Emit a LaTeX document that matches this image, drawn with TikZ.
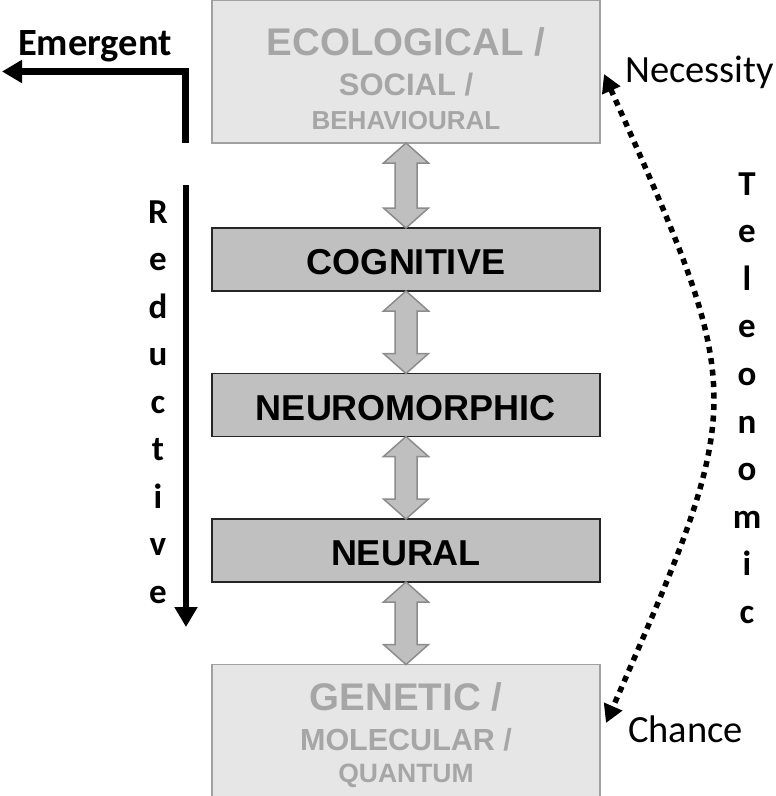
\documentclass[tikz,border=0pt]{standalone}
\usepackage{fontspec}
\setmainfont{Liberation Sans}
\newfontfamily\cali{Carlito}
\usetikzlibrary{arrows.meta,positioning,calc}
\definecolor{softfill}{HTML}{E6E6E6}
\definecolor{softline}{HTML}{A0A0A0}
\definecolor{softtext}{HTML}{A6A6A6}
\definecolor{hardfill}{HTML}{C0C0C0}
\definecolor{arrfill}{HTML}{BFBFBF}
\definecolor{arrline}{HTML}{8C8C8C}
\tikzstyle{lvl}=[x=1pt, y=1pt, node distance=82.5pt]
\tikzstyle{softbox}=[rectangle, draw=softline, fill=softfill, line width=1.5pt,
                minimum width=388pt, outer sep=0, inner sep=0]
\tikzstyle{hardbox}=[rectangle, draw=black!85, fill=hardfill, line width=1.8pt,
                minimum width=388pt, minimum height=63pt, outer sep=0,
                text height=30pt, text depth=0pt,
                font=\fontsize{36}{36}\selectfont\bfseries]
\tikzstyle{softtxt}=[text=softtext, inner sep=0, anchor=base]
\tikzstyle{dbl}=[draw=arrline, fill=arrfill, line width=1.5pt, line join=miter]
\tikzstyle{bigarrow}=[line width=6.5pt, -{Triangle[length=20pt,width=22pt]}]
\tikzstyle{dotarrow}=[line width=5.5pt, dash pattern=on 6pt off 5.5pt,
                {Triangle[length=18pt,width=19pt]}-{Triangle[length=18pt,width=19pt]}]
\tikzstyle{vlet}=[font=\cali\bfseries\fontsize{35}{35}\selectfont, inner sep=0, anchor=base]
\tikzstyle{side}=[font=\cali\fontsize{38.5}{38.5}\selectfont, inner sep=0, anchor=base west]

\begin{document}
\begin{tikzpicture}[lvl]
\path[use as bounding box] (0,0) rectangle (776,-796);
% levels
\node[softbox, minimum height=143pt] (eco) at (406,-71.5) {};
\node[hardbox, below=85pt of eco] (cog) {COGNITIVE};
\node[hardbox, below=of cog] (morph) {NEUROMORPHIC};
\node[hardbox, below=of morph] (neur) {NEURAL};
\node[softbox, minimum height=132pt, below=of neur] (gen) {};
\node[softtxt, font=\fontsize{38.5}{38.5}\selectfont\bfseries] (eco1) at ([yshift=-55pt]eco.north) {ECOLOGICAL /};
\node[softtxt, font=\fontsize{31}{31}\selectfont\bfseries] (eco2) at ([yshift=-95pt]eco.north) {SOCIAL /};
\node[softtxt, font=\fontsize{26}{26}\selectfont\bfseries] (eco3) at ([yshift=-129pt]eco.north) {BEHAVIOURAL};
\node[softtxt, font=\fontsize{38.5}{38.5}\selectfont\bfseries] (gen1) at ([yshift=-45.5pt]gen.north) {GENETIC /};
\node[softtxt, font=\fontsize{30.5}{30.5}\selectfont\bfseries] (gen2) at ([yshift=-85.5pt]gen.north) {MOLECULAR /};
\node[softtxt, font=\fontsize{26.5}{26.5}\selectfont\bfseries] (gen3) at ([yshift=-117.5pt]gen.north) {QUANTUM};
% fat double arrows
\foreach \a/\b in {eco/cog,cog/morph,morph/neur,neur/gen}
  \draw[dbl] (\a.south) -- ++(22.5,-20) -- ++(-11.5,0) -- ($(\b.north)+(11,20)$)
    -- ++(11.5,0) -- (\b.north) -- ++(-22.5,20) -- ++(11.5,0)
    -- ($(\a.south)+(-11,-20)$) -- ++(-11.5,0) -- cycle;
% emergent / reductive
\node[font=\cali\bfseries\fontsize{38.5}{38.5}\selectfont, inner sep=0, anchor=base] (emerg) at (95,-55) {Emergent};
\coordinate (emstart) at (185.5,-143);
\coordinate (emend) at (2,-71.5);
\draw[bigarrow] (emstart) |- (emend);
\coordinate (redtop) at (186,-185);
\coordinate (redbot) at (186,-627);
\draw[bigarrow] (redtop) -- (redbot);
\foreach \ch [count=\i from 0] in {R,e,d,u,c,t,i,v,e}
  \node[vlet] (red\i) at (158,-223-47.5*\i) {\ch};
% teleonomic
\node[side] (nec) at (625,-82) {Necessity};
\node[side] (cha) at (628,-742) {Chance};
\coordinate (necpt) at (604,-74);
\coordinate (chapt) at (606,-723);
\coordinate (bulge) at (748,-398);
\draw[dotarrow] (necpt) .. controls (bulge) .. (chapt);
\foreach \ch [count=\i from 0] in {T,e,l,e,o,n,o,m,i,c}
  \node[vlet] (tel\i) at (747,-195-47.6*\i) {\ch};
\end{tikzpicture}
\end{document}
